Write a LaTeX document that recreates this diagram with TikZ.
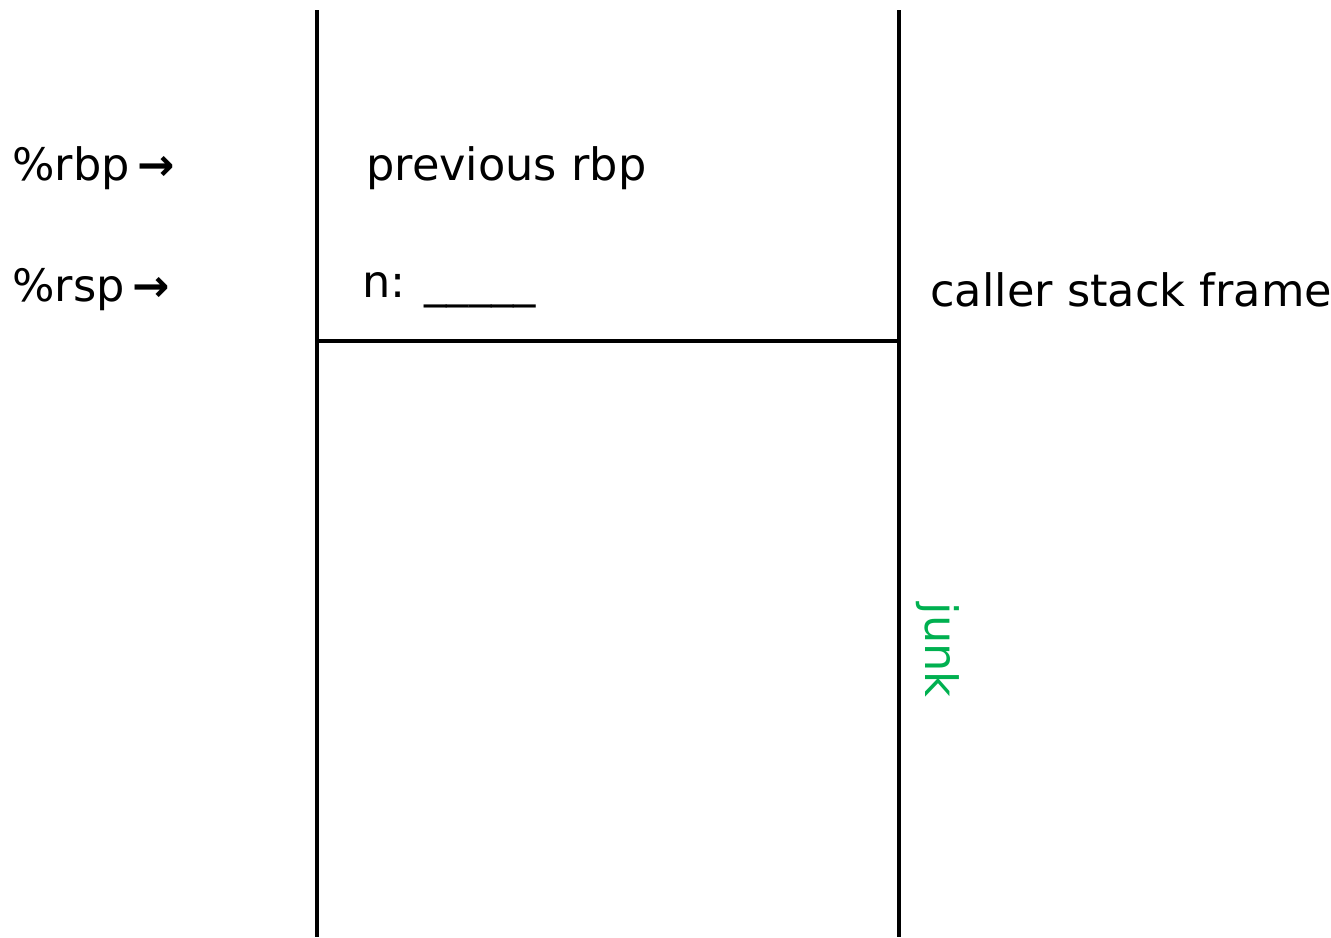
\documentclass[tikz,border=0pt]{standalone}
\usepackage{fontspec}
\setmainfont{DejaVu Sans}
\usepackage{xcolor}
\usetikzlibrary{positioning}

\definecolor{junkgreen}{HTML}{00B050}

\newcommand{\regarrow}{\,\textbf{→}}

\begin{document}
\begin{tikzpicture}[
    x=0.02cm, y=-0.02cm,
    wall/.style={line width=2.3pt, color=black},
    label/.style={anchor=west, inner sep=0pt, font=\fontsize{25.4}{30}\selectfont},
    junklabel/.style={label, anchor=center, color=junkgreen, rotate=-90},
]
\useasboundingbox (0,0) rectangle (1331,937);

% stack walls
\coordinate (topL) at (317, 10);
\coordinate (botL) at (317, 937);
\coordinate (topR) at (899, 10);
\coordinate (botR) at (899, 937);
\draw[wall] (topL) -- (botL);
\draw[wall] (topR) -- (botR);
\draw[wall] (topL |- 0,341) -- (topR |- 0,341);

% registers
\node[label] (rbp) at (12, 168) {\%rbp\regarrow};
\node[label] (rsp) at (12, 290) {\%rsp\regarrow};

% frame contents
\node[label] (prev) at (366, 168) {previous rbp};
\node[label] (nvar) at (362, 290) {n: \_\_\_\_\_};
\node[label] (caller) at (930, 290) {caller stack frame};
\node[junklabel] (junk) at (938, 650) {junk};

\end{tikzpicture}
\end{document}
